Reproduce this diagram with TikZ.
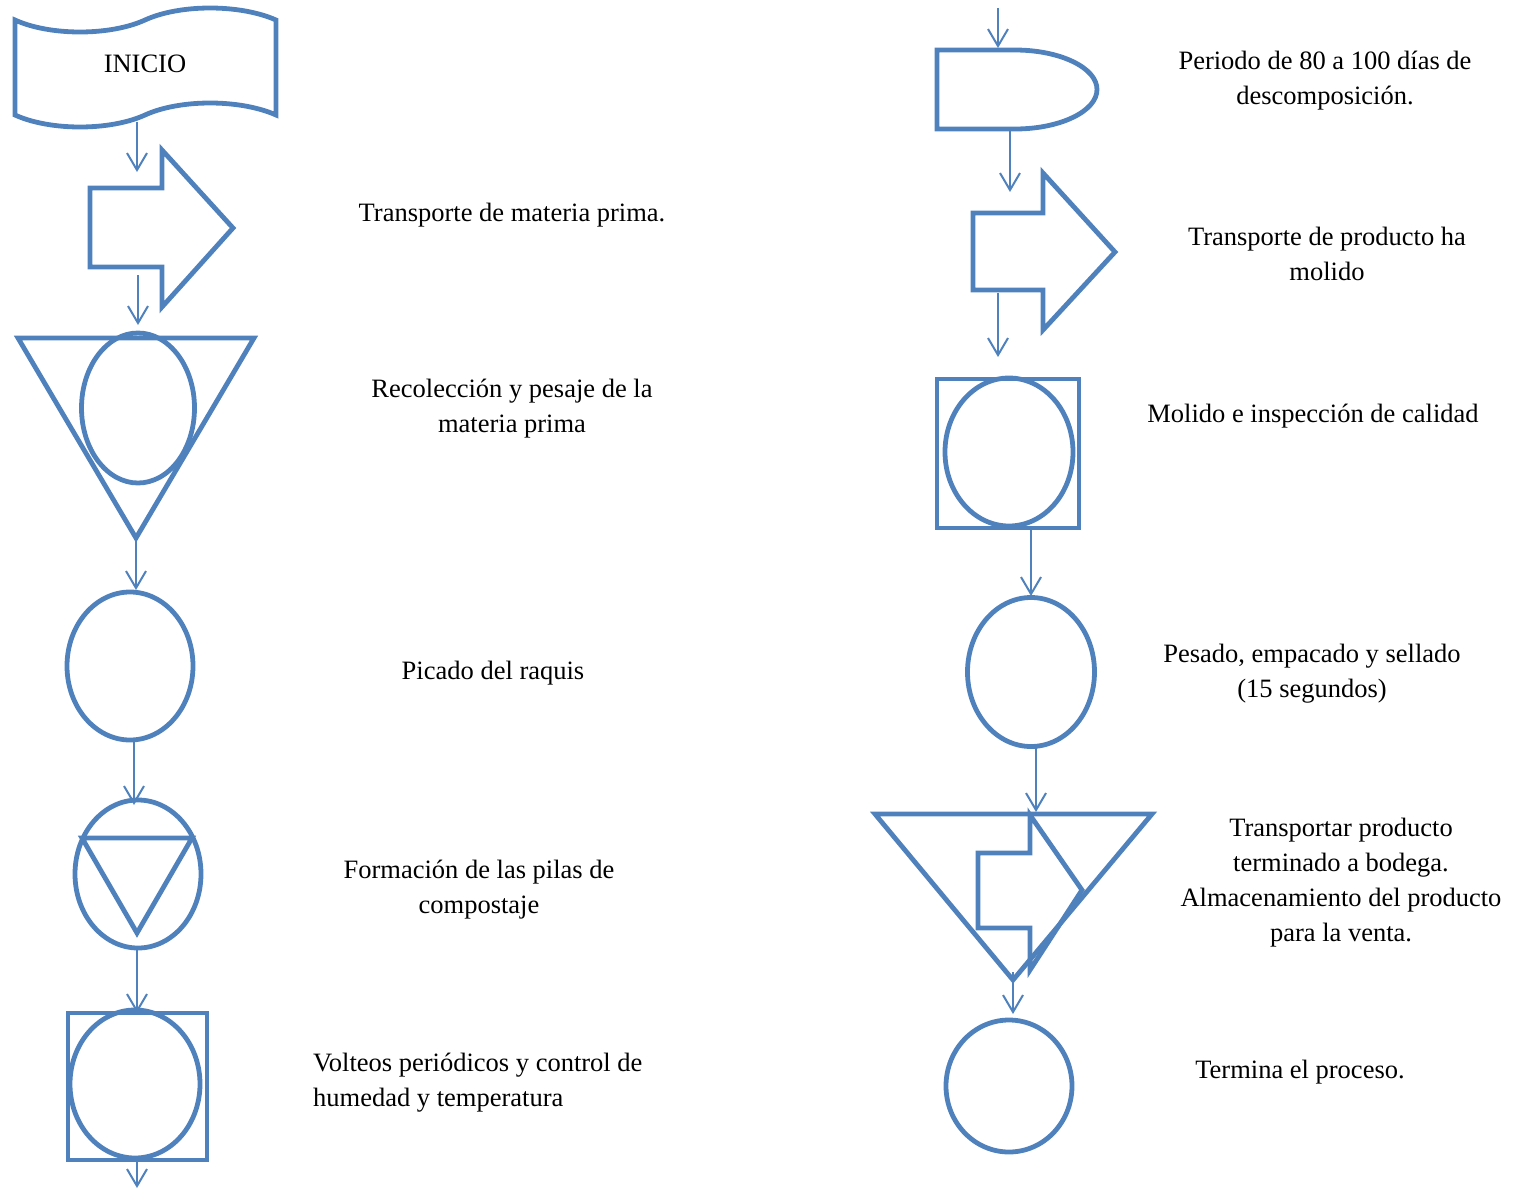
\documentclass[tikz,border=0pt]{standalone}
\usepackage{fontspec}
\setmainfont{Liberation Serif}
\usetikzlibrary{arrows.meta,shapes.geometric}
\definecolor{flow}{HTML}{4F81BD}
\definecolor{ink}{HTML}{000000}
\tikzset{
  shapeline/.style={draw=flow,line width=4.8pt},
  oval/.style={ellipse,draw=flow,line width=4.8pt,inner sep=0pt},
  flowarrow/.style={-{Straight Barb[length=17pt,width=20pt]},line width=2pt,draw=flow},
  txt/.style={font=\fontsize{26.5}{35}\selectfont,align=center,text=ink,inner sep=0pt}
}

\begin{document}
\begin{tikzpicture}[x=1pt,y=-1pt]
  \useasboundingbox (0,0) rectangle (1521,1189);

  % left column
  \draw[shapeline] (15,20) .. controls (50,36) and (110,36) .. (145,20)
    .. controls (180,4) and (240,4) .. (276,20) -- (276,115)
    .. controls (240,99) and (180,99) .. (145,115)
    .. controls (110,131) and (50,131) .. (15,115) -- cycle;
  \node[txt] (inicio) at (145,64) {INICIO};

  \draw[shapeline] (90,188) -- (162,188) -- (162,150) -- (233,228) -- (162,307) -- (162,267) -- (90,267) -- cycle;
  \node[txt] (transp1) at (512,215) {Transporte de materia prima.};

  \draw[shapeline] (18,338) -- (254,338) -- (136,538) -- cycle;
  \node[oval,minimum width=113pt,minimum height=150pt] (recol) at (138,408) {};
  \node[txt] (recoltxt) at (512,409) {Recolección y pesaje de la\\materia prima};

  \node[oval,minimum width=126pt,minimum height=148pt] (picado) at (130,666) {};
  \node[txt] (picadotxt) at (493,673) {Picado del raquis};

  \node[oval,minimum width=126pt,minimum height=148pt] (pilas) at (138,874) {};
  \draw[shapeline] (82,838) -- (192,838) -- (137,933) -- cycle;
  \node[txt] (pilastxt) at (479,890) {Formación de las pilas de\\compostaje};

  \draw[shapeline] (68,1013) rectangle (207,1160);
  \node[oval,minimum width=130pt,minimum height=148pt] (volteo) at (135,1084) {};
  \node[txt,align=left,anchor=west] (volteotxt) at (313,1083) {Volteos periódicos y control de\\humedad y temperatura};

  % right column
  \draw[shapeline] (1015,50) -- (937,50) -- (937,129) -- (1015,129)
    .. controls (1060,129) and (1097,111.3) .. (1097,89.5)
    .. controls (1097,67.7) and (1060,50) .. (1015,50);
  \node[txt] (esperatxt) at (1325,81) {Periodo de 80 a 100 días de\\descomposición.};

  \draw[shapeline] (973,213) -- (1043,213) -- (1043,173) -- (1115,252) -- (1043,330) -- (1043,290) -- (973,290) -- cycle;
  \node[txt] (transp2) at (1327,254) {Transporte de producto ha\\molido};

  \draw[shapeline] (937,379) rectangle (1079,528);
  \node[oval,minimum width=128pt,minimum height=148pt] (molido) at (1009,452) {};
  \node[txt] (molidotxt) at (1313,416) {Molido e inspección de calidad};

  \node[oval,minimum width=127pt,minimum height=149pt] (pesado) at (1031,672) {};
  \node[txt] (pesadotxt) at (1312,674) {Pesado, empacado y sellado\\(15 segundos)};

  \draw[shapeline] (875,814) -- (1152,814) -- (1013,980) -- cycle;
  \draw[shapeline] (978,853) -- (1030,853) -- (1030,815) -- (1082,890) -- (1030,970) -- (1030,928) -- (978,928) -- cycle;
  \node[txt] (almacentxt) at (1341,883) {Transportar producto\\terminado a bodega.\\Almacenamiento del producto\\para la venta.};

  \node[oval,minimum width=126pt,minimum height=132pt] (fin) at (1009,1086) {};
  \node[txt] (fintxt) at (1300,1072) {Termina el proceso.};

  % connectors
  \coordinate (a1s) at (137,122); \coordinate (a1e) at (137,172);
  \coordinate (a2s) at (138,275); \coordinate (a2e) at (138,325);
  \coordinate (a3s) at (136,538); \coordinate (a3e) at (136,590);
  \coordinate (a4s) at (134,740); \coordinate (a4e) at (134,805);
  \coordinate (a5s) at (137,950); \coordinate (a5e) at (137,1013);
  \coordinate (a6s) at (137,1160); \coordinate (a6e) at (137,1188);
  \coordinate (b0s) at (998,8); \coordinate (b0e) at (998,48);
  \coordinate (b1s) at (1010,130); \coordinate (b1e) at (1010,192);
  \coordinate (b2s) at (998,293); \coordinate (b2e) at (998,357);
  \coordinate (b3s) at (1031,528); \coordinate (b3e) at (1031,596);
  \coordinate (b4s) at (1036,747); \coordinate (b4e) at (1036,812);
  \coordinate (b5s) at (1013,972); \coordinate (b5e) at (1013,1014);
  \foreach \c in {a1,a2,a3,a4,a5,a6,b0,b1,b2,b3,b4,b5}
    \draw[flowarrow] (\c s) -- (\c e);
\end{tikzpicture}
\end{document}
